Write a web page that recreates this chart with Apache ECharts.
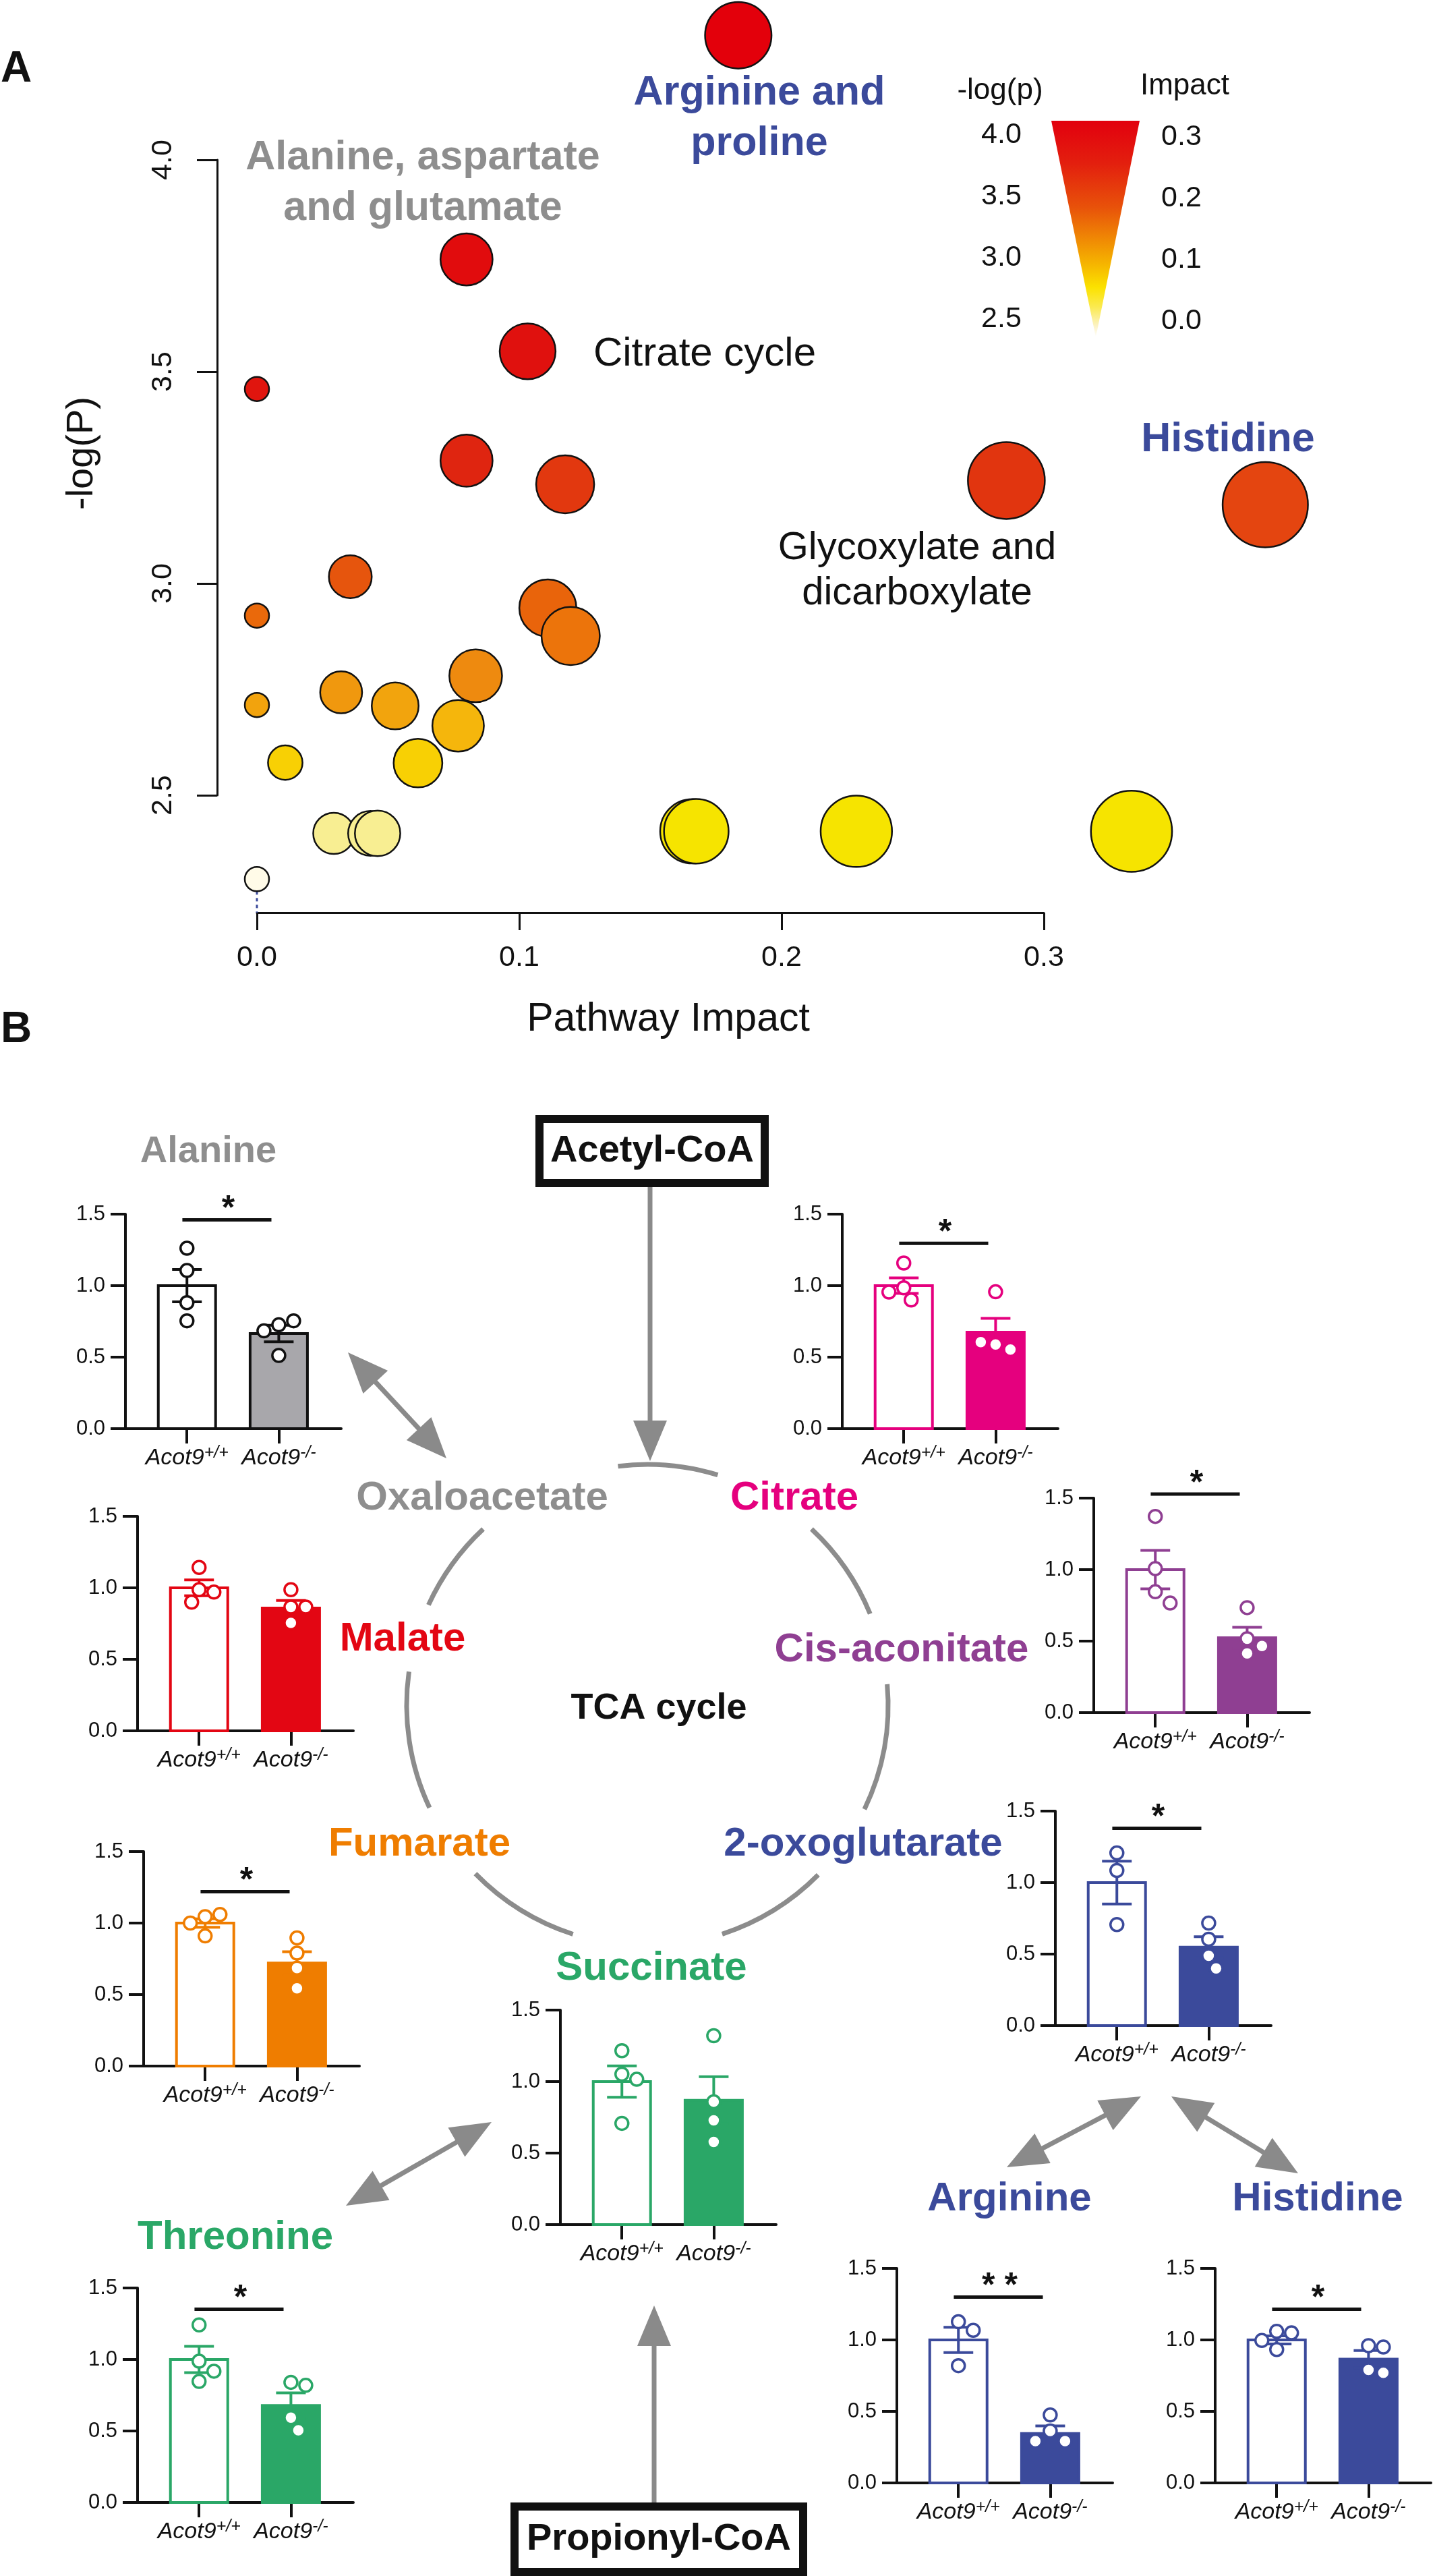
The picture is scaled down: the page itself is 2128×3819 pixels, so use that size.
<!DOCTYPE html>
<html><head><meta charset="utf-8">
<script src="https://cdn.jsdelivr.net/npm/echarts@6/dist/echarts.min.js"></script>
<style>html,body{margin:0;padding:0;background:#fff}#c{width:2128px;height:3819px}</style>
</head><body><div id="c"></div>
<script>
// ---------- Panel A data ----------
const pathwayImpact = [0.1835,0.0799,0.1032,0.0,0.0799,0.1175,0.2857,0.3844,0.0356,0.0,0.1109,0.1196,0.0834,0.0321,0.0,0.0527,0.0767,0.0108,0.0614,0.0293,0.0433,0.0460,0.1660,0.1675,0.2285,0.3334,0.0];
const pathwayLogP   = [4.294,3.765,3.548,3.459,3.290,3.234,3.243,3.186,3.016,2.924,2.942,2.876,2.782,2.743,2.713,2.711,2.664,2.577,2.576,2.410,2.410,2.410,2.415,2.415,2.415,2.415,2.302];
const legendLogP = ['4.0','3.5','3.0','2.5'];
const legendImpact = ['0.3','0.2','0.1','0.0'];

// ---------- Panel B data ----------
const barNames = ['Alanine','Citrate','Malate','Cis-aconitate','Fumarate','2-oxoglutarate','Succinate','Threonine','Arginine','Histidine'];
const groupLabels = ['+/+','-/-'];
const wtMean = [1.0,1.0,1.0,1.0,1.0,1.0,1.0,1.0,1.0,1.0];
const wtSem  = [0.113,0.054,0.055,0.135,0.03,0.15,0.11,0.092,0.088,0.028];
const koMean = [0.665,0.674,0.859,0.524,0.72,0.548,0.869,0.678,0.345,0.866];
const koSem  = [0.058,0.097,0.052,0.073,0.08,0.074,0.165,0.088,0.053,0.06];
const wtDots = [
  [1.262,1.106,0.881,0.754],
  [1.158,0.985,0.90,0.955],
  [1.143,0.987,0.97,0.90],
  [1.372,1.007,0.845,0.766],
  [1.045,1.06,1.0,0.91],
  [1.208,1.085,0.706],
  [1.216,1.052,1.016,0.708],
  [1.242,0.988,0.918,0.847],
  [1.127,1.067,0.82],
  [1.06,1.049,0.996,0.933]
];
const koDots = [
  [0.726,0.754,0.684,0.512],
  [0.957,0.588,0.553,0.605],
  [0.987,0.866,0.866,0.755],
  [0.734,0.517,0.466,0.414],
  [0.896,0.79,0.685,0.544],
  [0.717,0.604,0.488,0.40],
  [1.321,0.859,0.729,0.578],
  [0.84,0.819,0.593,0.505],
  [0.475,0.363,0.292,0.292],
  [0.96,0.95,0.79,0.77]
];
const sigLevel = [1.46,1.296,null,1.528,1.219,1.38,null,1.352,1.30,1.215];
const sigMark  = ['*','*','','*','*','*','','*','* *','*'];

// ---------- styles / layout ----------
const FONT = "'Liberation Sans', Arial, Helvetica, sans-serif";
const BLUE = '#3b4a9b', GRAY = '#8e8e8e', GREEN = '#2aa767';
const chartStroke = ['#111111','#e5007e','#e30613','#8f3f92','#ef7d00',BLUE,GREEN,GREEN,BLUE,BLUE];
const chartKoFill = ['#a8a7ab','#e5007e','#e30613','#8f3f92','#ef7d00',BLUE,GREEN,GREEN,BLUE,BLUE];
const chartPos = [[186,1800],[1249,1800],[204,2248],[1622,2221],[213,2745],[1565,2685],[831,2980],[204,3392],[1330,3363],[1802,3363]];
const BAR_W = 320, BAR_H = 318;

function hex2rgb(h){h=h.replace('#','');return [0,2,4].map(i=>parseInt(h.substr(i,2),16));}
const heatStops = [[2.30,'#fffbea'],[2.41,'#f8ee92'],[2.414,'#f6e400'],[2.58,'#f8d004'],[2.66,'#f5b80c'],[2.72,'#f2a00d'],[2.78,'#ee8a0f'],[2.9,'#eb6f0a'],[3.0,'#e6560d'],[3.2,'#e44410'],[3.25,'#e1320f'],[3.3,'#df2210'],[3.5,'#e0120e'],[4.3,'#e3000b']];
function heat(v){
  if(v<=heatStops[0][0]) return heatStops[0][1];
  for(let i=1;i<heatStops.length;i++){
    if(v<=heatStops[i][0]){
      const [a,ca]=heatStops[i-1],[b,cb]=heatStops[i];const t=(v-a)/(b-a);
      const A=hex2rgb(ca),B=hex2rgb(cb);
      return 'rgb('+A.map((x,k)=>Math.round(x+(B[k]-x)*t)).join(',')+')';
    }
  }
  return heatStops[heatStops.length-1][1];
}
function bubbleSize(imp){return 36+146*Math.sqrt(imp);}

const grids=[],xAxes=[],yAxes=[],series=[];
const axLine = (w)=>({show:true,onZero:false,lineStyle:{color:'#111',width:w}});

// ---------- Panel A chart ----------
grids.push({left:381,top:237,width:1167,height:942});
xAxes.push({gridIndex:0,type:'value',min:0,max:0.3,interval:0.1,offset:174,
  axisLine:axLine(3),axisTick:{show:true,length:26,lineStyle:{color:'#111',width:3}},
  axisLabel:{show:true,fontSize:43,color:'#111',margin:46,fontFamily:FONT,formatter:v=>v.toFixed(1)},
  splitLine:{show:false}});
yAxes.push({gridIndex:0,type:'value',min:2.5,max:4.0,interval:0.5,offset:59,
  axisLine:axLine(3),axisTick:{show:true,length:30,lineStyle:{color:'#111',width:3}},
  axisLabel:{show:true,rotate:90,fontSize:43,color:'#111',margin:58,fontFamily:FONT,formatter:v=>v.toFixed(1)},
  splitLine:{show:false}});
series.push({type:'custom',xAxisIndex:0,yAxisIndex:0,clip:false,z:2,silent:true,
  data:[[pathwayImpact[26],pathwayLogP[26]]],
  renderItem:(p,api)=>{
    const c=api.coord([api.value(0),api.value(1)]);
    const base=api.coord([0,2.5])[1]+174;
    const r=bubbleSize(api.value(0))/2;
    return {type:'line',shape:{x1:c[0],y1:c[1]+r,x2:c[0],y2:base},style:{stroke:BLUE,lineWidth:3,lineDash:[5,5]}};
  }});
series.push({type:'scatter',xAxisIndex:0,yAxisIndex:0,clip:false,z:3,
  data:pathwayImpact.map((x,i)=>[x,pathwayLogP[i]]),
  symbolSize:v=>bubbleSize(v[0]),
  itemStyle:{color:p=>heat(p.value[1]),borderColor:'#111',borderWidth:2.5,opacity:1}});

// ---------- Panel B charts ----------
function jitter(vals){
  const placed=[],d=21,pxu=BAR_H/1.5,order=[0,1,-1,2,-2,3,-3,4,-4];
  return vals.map(v=>{
    const y=v*pxu;
    for(const k of order){const x=k*11;
      if(placed.every(p=>Math.hypot(p[0]-x,p[1]-y)>=d)){placed.push([x,y]);return x;}}
    return 0;
  });
}
barNames.forEach((nm,i)=>{
  const gi=i+1, sc=chartStroke[i], kf=chartKoFill[i];
  grids.push({left:chartPos[i][0],top:chartPos[i][1],width:BAR_W,height:BAR_H});
  xAxes.push({gridIndex:gi,type:'value',min:-0.67,max:1.68,
    axisLine:axLine(4),
    axisTick:{show:true,customValues:[0,1],length:22,lineStyle:{color:'#111',width:4}},
    axisLabel:{show:true,customValues:[0,1],margin:24,
      formatter:v=>'{i|Acot9}{s|'+(v<0.5?groupLabels[0]:groupLabels[1])+'}',
      rich:{i:{fontSize:34,fontStyle:'italic',fontFamily:FONT,color:'#111',lineHeight:40},
            s:{fontSize:25,fontStyle:'italic',fontFamily:FONT,color:'#111',verticalAlign:'top',lineHeight:25}}},
    splitLine:{show:false}});
  yAxes.push({gridIndex:gi,type:'value',min:0,max:1.5,interval:0.5,
    axisLine:axLine(4),axisTick:{show:true,length:22,lineStyle:{color:'#111',width:4}},
    axisLabel:{show:true,fontSize:31,color:'#111',margin:30,fontFamily:FONT,formatter:v=>v.toFixed(1)},
    splitLine:{show:false}});
  // bars
  series.push({type:'custom',xAxisIndex:gi,yAxisIndex:gi,z:2,silent:true,clip:false,
    data:[[0,wtMean[i]],[1,koMean[i]]],
    renderItem:(p,api)=>{
      const x=api.value(0),v=api.value(1);
      const t=api.coord([x,v]),b=api.coord([x,0]);const w=85;
      return {type:'rect',shape:{x:t[0]-w/2,y:t[1],width:w,height:b[1]-t[1]},
        style:{fill:x===1?kf:'#ffffff',stroke:sc,lineWidth:4}};
    }});
  // error bars
  series.push({type:'custom',xAxisIndex:gi,yAxisIndex:gi,z:3,silent:true,clip:false,
    data:[[0,wtMean[i],wtSem[i]],[1,koMean[i],koSem[i]]],
    renderItem:(p,api)=>{
      const x=api.value(0),m=api.value(1),s=api.value(2);
      const hi=api.coord([x,m+s]),lo=api.coord([x,m-s]);const cw=22;
      const st={stroke:sc,lineWidth:4};
      return {type:'group',children:[
        {type:'line',shape:{x1:hi[0],y1:hi[1],x2:lo[0],y2:lo[1]},style:st},
        {type:'line',shape:{x1:hi[0]-cw,y1:hi[1],x2:hi[0]+cw,y2:hi[1]},style:st},
        {type:'line',shape:{x1:lo[0]-cw,y1:lo[1],x2:lo[0]+cw,y2:lo[1]},style:st}]};
    }});
  // dots
  const jw=jitter(wtDots[i]),jk=jitter(koDots[i]);
  series.push({type:'scatter',xAxisIndex:gi,yAxisIndex:gi,z:4,clip:false,symbolSize:19,
    itemStyle:{color:'#ffffff',borderColor:sc,borderWidth:3.5,opacity:1},
    data:wtDots[i].map((v,k)=>({value:[0,v],symbolOffset:[jw[k],0]}))
      .concat(koDots[i].map((v,k)=>({value:[1,v],symbolOffset:[jk[k],0]})))});
  // significance
  if(sigLevel[i]!==null){
    series.push({type:'custom',xAxisIndex:gi,yAxisIndex:gi,z:4,silent:true,clip:false,
      data:[[sigLevel[i]]],
      renderItem:(p,api)=>{
        const L=api.value(0);const a=api.coord([-0.05,L]),b=api.coord([0.92,L]),m=api.coord([0.45,L]);
        return {type:'group',children:[
          {type:'line',shape:{x1:a[0],y1:a[1],x2:b[0],y2:b[1]},style:{stroke:'#111',lineWidth:5}},
          {type:'text',x:m[0],y:m[1]-15,style:{text:sigMark[i],fontSize:50,fontWeight:'bold',fontFamily:FONT,fill:'#111',align:'center',verticalAlign:'middle'}}]};
      }});
  }
});

// ---------- graphics (labels, diagram) ----------
const G=[];
function txt(x,y,s,size,color,weight,extra){
  G.push(Object.assign({type:'text',x:x,y:y,z:20,
    style:{text:s,fontSize:size,fontFamily:FONT,fontWeight:weight||'normal',fill:color||'#111',
      align:'center',verticalAlign:'middle',textAlign:'center',textVerticalAlign:'middle'}},extra||{}));
}
// panel letters
txt(24,103,'A',64,'#111','bold');
txt(24,1527,'B',64,'#111','bold');
// panel A labels
txt(122,672,'-log(P)',56,'#111','normal',{rotation:Math.PI/2});
txt(991,1512,'Pathway Impact',59,'#111');
txt(1126,138,'Arginine and',61,BLUE,'bold');
txt(1126,213,'proline',61,BLUE,'bold');
txt(627,234,'Alanine, aspartate',61,GRAY,'bold');
txt(627,309,'and glutamate',61,GRAY,'bold');
txt(1045,525,'Citrate cycle',60,'#111');
txt(1360,813,'Glycoxylate and',58,'#111');
txt(1360,880,'dicarboxylate',58,'#111');
txt(1821,652,'Histidine',61,BLUE,'bold');
// legend
txt(1483,135,'-log(p)',44,'#111');
txt(1757,128,'Impact',44,'#111');
legendLogP.forEach((s,k)=>txt(1485,200+91*k,s,43,'#111'));
legendImpact.forEach((s,k)=>txt(1752,203+91*k,s,43,'#111'));
G.push({type:'polygon',z:5,shape:{points:[[1559,179],[1690,179],[1625,500]]},
  style:{fill:{type:'linear',x:0,y:0,x2:0,y2:1,colorStops:[
    {offset:0,color:'#e2000e'},{offset:0.2,color:'#e3200e'},{offset:0.4,color:'#e8520a'},
    {offset:0.55,color:'#f08a04'},{offset:0.67,color:'#f6b800'},{offset:0.77,color:'#fbe200'},
    {offset:0.86,color:'#fbea50'},{offset:0.95,color:'#fcf3c8'},{offset:1,color:'#ffffff'}]}}});

// panel B labels
txt(309,1708,'Alanine',56,GRAY,'bold');
txt(715,2221,'Oxaloacetate',60,GRAY,'bold');
txt(1178,2221,'Citrate',60,'#e5007e','bold');
txt(597,2430,'Malate',60,'#e30613','bold');
txt(1337,2446,'Cis-aconitate',60,'#8f3f92','bold');
txt(977,2533,'TCA cycle',54,'#111','bold');
txt(622,2734,'Fumarate',60,'#ef7d00','bold');
txt(1280,2734,'2-oxoglutarate',60,BLUE,'bold');
txt(966,2918,'Succinate',60,GREEN,'bold');
txt(349,3317,'Threonine',60,GREEN,'bold');
txt(1497,3260,'Arginine',60,BLUE,'bold');
txt(1954,3260,'Histidine',60,BLUE,'bold');

// boxes
G.push({type:'rect',z:6,shape:{x:800,y:1659,width:334,height:95},style:{fill:'#fff',stroke:'#111',lineWidth:12}});
txt(967,1707,'Acetyl-CoA',56,'#111','bold');
G.push({type:'rect',z:6,shape:{x:763,y:3716,width:428,height:97},style:{fill:'#fff',stroke:'#111',lineWidth:12}});
txt(977,3765,'Propionyl-CoA',56,'#111','bold');

// TCA cycle arcs
const CY={cx:960,cy:2528,r:357};
[[-97,-73],[-47,-22.3],[-5,25.6],[44.8,71.9],[108,135.6],[154.8,188],[204.6,227]].forEach(([a,b])=>{
  G.push({type:'arc',z:5,shape:{cx:CY.cx,cy:CY.cy,r:CY.r,startAngle:a*Math.PI/180,endAngle:b*Math.PI/180,clockwise:true},
    style:{stroke:'#8c8c8c',lineWidth:7,fill:null}});
});

// arrows
const ARC='#8a8a8a';
function arrow(x1,y1,x2,y2,both){
  const dx=x2-x1,dy=y2-y1,L=Math.hypot(dx,dy),ux=dx/L,uy=dy/L,px=-uy,py=ux,HL=60,HW=25;
  const sx=both?x1+ux*HL*0.7:x1, sy=both?y1+uy*HL*0.7:y1;
  G.push({type:'line',z:5,shape:{x1:sx,y1:sy,x2:x2-ux*HL*0.7,y2:y2-uy*HL*0.7},style:{stroke:ARC,lineWidth:7}});
  const head=(tx,ty,dirx,diry)=>G.push({type:'polygon',z:5,shape:{points:[[tx,ty],
    [tx-dirx*HL+px*HW,ty-diry*HL+py*HW],[tx-dirx*HL-px*HW,ty-diry*HL-py*HW]]},style:{fill:ARC}});
  head(x2,y2,ux,uy);
  if(both) head(x1,y1,-ux,-uy);
}
arrow(964,1760,964,2166,false);
arrow(970,3710,970,3418,false);
arrow(516,2005,662,2162,true);
arrow(513,3270,729,3146,true);
arrow(1692,3108,1493,3213,true);
arrow(1737,3108,1925,3222,true);

const chart=echarts.init(document.getElementById('c'),null,{renderer:'canvas'});
chart.setOption({backgroundColor:'#ffffff',animation:false,textStyle:{fontFamily:FONT},
  grid:grids,xAxis:xAxes,yAxis:yAxes,series:series,graphic:{elements:G}});
</script></body></html>
